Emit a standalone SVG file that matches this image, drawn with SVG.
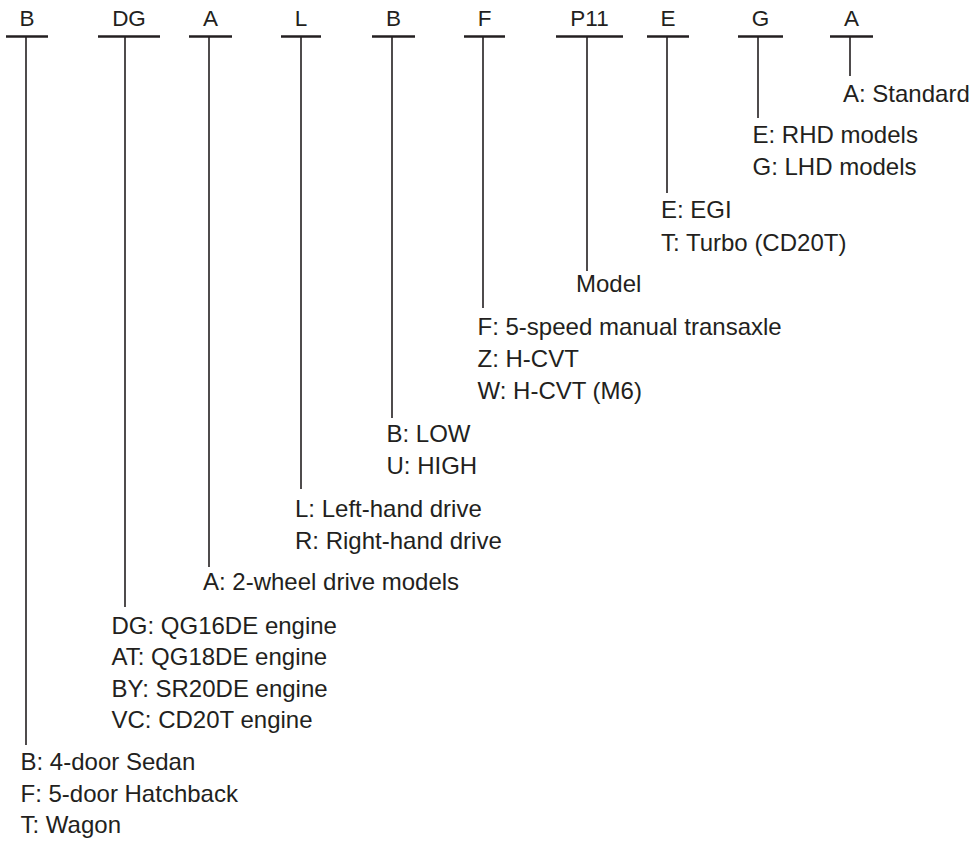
<svg xmlns="http://www.w3.org/2000/svg" width="973" height="843" viewBox="0 0 973 843">
<style>
text{font-family:"Liberation Sans",Arial,sans-serif;fill:#231f20}
.code{font-size:22.5px;text-anchor:middle}
.lbl{font-size:24px}
.bar{stroke:#231f20;stroke-width:2.6;fill:none}
.stem{stroke:#231f20;stroke-width:1.6;fill:none}
</style>
<rect width="973" height="843" fill="#fff"/>
<g id="connectors">
<line class="stem" x1="26" y1="37" x2="26" y2="745"/>
<line class="stem" x1="125" y1="37" x2="125" y2="607"/>
<line class="stem" x1="209" y1="37" x2="209" y2="567"/>
<line class="stem" x1="301" y1="37" x2="301" y2="489"/>
<line class="stem" x1="392" y1="37" x2="392" y2="418"/>
<line class="stem" x1="483" y1="37" x2="483" y2="308"/>
<line class="stem" x1="587" y1="37" x2="587" y2="271"/>
<line class="stem" x1="667" y1="37" x2="667" y2="193"/>
<line class="stem" x1="758" y1="37" x2="758" y2="118"/>
<line class="stem" x1="850" y1="37" x2="850" y2="76"/>
</g>
<g id="code-B1"><line class="bar" x1="6" y1="36.5" x2="48" y2="36.5"/><text class="code" x="27" y="26">B</text></g>
<g id="code-DG"><line class="bar" x1="98" y1="36.5" x2="160" y2="36.5"/><text class="code" x="129" y="26">DG</text></g>
<g id="code-A1"><line class="bar" x1="189" y1="36.5" x2="232" y2="36.5"/><text class="code" x="210.5" y="26">A</text></g>
<g id="code-L"><line class="bar" x1="281" y1="36.5" x2="321" y2="36.5"/><text class="code" x="301" y="26">L</text></g>
<g id="code-B2"><line class="bar" x1="372" y1="36.5" x2="415" y2="36.5"/><text class="code" x="393.5" y="26">B</text></g>
<g id="code-F"><line class="bar" x1="464" y1="36.5" x2="505" y2="36.5"/><text class="code" x="484.5" y="26">F</text></g>
<g id="code-P11"><line class="bar" x1="556" y1="36.5" x2="623" y2="36.5"/><text class="code" x="589.5" y="26">P11</text></g>
<g id="code-E"><line class="bar" x1="647" y1="36.5" x2="689" y2="36.5"/><text class="code" x="668" y="26">E</text></g>
<g id="code-G"><line class="bar" x1="738" y1="36.5" x2="783" y2="36.5"/><text class="code" x="760.5" y="26">G</text></g>
<g id="code-A2"><line class="bar" x1="830" y1="36.5" x2="873" y2="36.5"/><text class="code" x="851.5" y="26">A</text></g>

<g id="desc-A2"><text class="lbl" x="843" y="101.5">A: Standard</text></g>
<g id="desc-G"><text class="lbl" x="752.5" y="143">E: RHD models</text><text class="lbl" x="752.5" y="175">G: LHD models</text></g>
<g id="desc-E"><text class="lbl" x="661" y="218">E: EGI</text><text class="lbl" x="661" y="250.5">T: Turbo (CD20T)</text></g>
<g id="desc-P11"><text class="lbl" x="576" y="291.5">Model</text></g>
<g id="desc-F"><text class="lbl" x="477.5" y="335">F: 5-speed manual transaxle</text><text class="lbl" x="477.5" y="367">Z: H-CVT</text><text class="lbl" x="477.5" y="399">W: H-CVT (M6)</text></g>
<g id="desc-B2"><text class="lbl" x="386.5" y="441.5">B: LOW</text><text class="lbl" x="386.5" y="473.5">U: HIGH</text></g>
<g id="desc-L"><text class="lbl" x="295" y="516.5">L: Left-hand drive</text><text class="lbl" x="295" y="548.5">R: Right-hand drive</text></g>
<g id="desc-A1"><text class="lbl" x="203" y="590">A: 2-wheel drive models</text></g>
<g id="desc-DG"><text class="lbl" x="111.5" y="633.5">DG: QG16DE engine</text><text class="lbl" x="111.5" y="665">AT: QG18DE engine</text><text class="lbl" x="111.5" y="697">BY: SR20DE engine</text><text class="lbl" x="111.5" y="728">VC: CD20T engine</text></g>
<g id="desc-B1"><text class="lbl" x="20.5" y="770">B: 4-door Sedan</text><text class="lbl" x="20.5" y="802">F: 5-door Hatchback</text><text class="lbl" x="20.5" y="833">T: Wagon</text></g>
</svg>
